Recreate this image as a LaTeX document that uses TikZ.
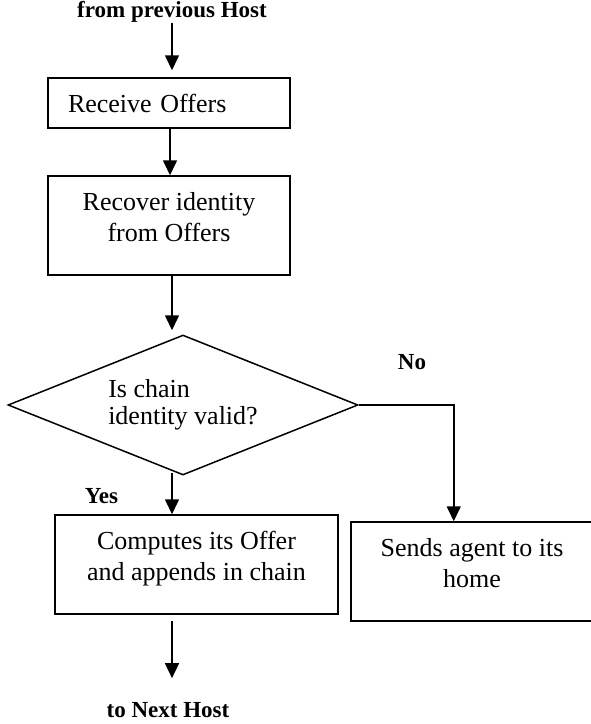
\documentclass[tikz,border=0pt]{standalone}
\usepackage{fontspec}
\setmainfont{Liberation Serif}
\usepackage{tikz}
\usetikzlibrary{positioning,arrows.meta,shapes.geometric,calc}
\newcommand\bodyfont{\fontsize{26}{31}\selectfont}
\newcommand\labfont{\fontsize{23}{27}\selectfont\bfseries}

\begin{document}
\begin{tikzpicture}[
  x=1pt, y=-1pt,
  every node/.style={font=\bodyfont},
  procbox/.style={
    rectangle, draw=black, line width=1.5pt,
    fill=white, inner sep=0pt, align=center,
    minimum height=99pt, minimum width=242pt
  },
  decbox/.style={
    diamond, aspect=2.5, draw=black, line width=1.5pt,
    inner sep=0pt, align=left,
    minimum width=350pt, minimum height=140pt,
    font=\fontsize{26}{27}\selectfont
  },
  lab/.style={font=\labfont, inner sep=0pt},
  arr/.style={-{Triangle[length=15pt,width=14pt]}, line width=1.6pt, draw=black}
]
\useasboundingbox (0,0) rectangle (590,724);

% Column of the main flow
\coordinate (spine) at (172,0);

% Terminal labels
\node[lab] (fromprev) at (172,12) {from previous Host};
\node[lab] (tonext)   at (168,710) {to Next Host};

% Process boxes
\node[procbox, minimum height=50pt, text width=202pt, align=left] (receive) at (169,103) {Receive Offers};
\node[procbox] (recover) at (169,225.5) {Recover identity\\from Offers\rule[-18pt]{0pt}{18pt}};
\node[decbox] (check) at (183,405) {Is chain\\identity valid?};
\node[procbox, minimum width=283pt] (compute) at (196.5,564.5) {Computes its Offer\\and appends in chain\rule[-18pt]{0pt}{18pt}};
\node[procbox] (sendhome) at (472,571.5) {Sends agent to its\\home\rule[-18pt]{0pt}{18pt}};

% Branch labels
\node[lab] (nolab)  at (412,362) {No};
\node[lab] (yeslab) at (101.5,496) {Yes};

% Main flow
\draw[arr, shorten >=7pt] (spine |- fromprev.south) -- (spine |- receive.north);
\draw[arr] ([xshift=1pt]receive.south) -- ([xshift=1pt]receive.south |- recover.north);
\draw[arr, shorten >=4pt] (spine |- recover.south) -- (spine |- check.north);
\draw[arr] ($(spine |- check.south)+(0,-3)$) -- (spine |- compute.north);
\draw[arr, shorten <=6pt] (spine |- compute.south) -- ($(spine |- tonext.north)+(0,-24)$);

% Invalid chain goes home
\draw[arr] (check.east) -- ++(95,0) coordinate (noturn) -- (noturn |- sendhome.north);

\end{tikzpicture}
\end{document}
